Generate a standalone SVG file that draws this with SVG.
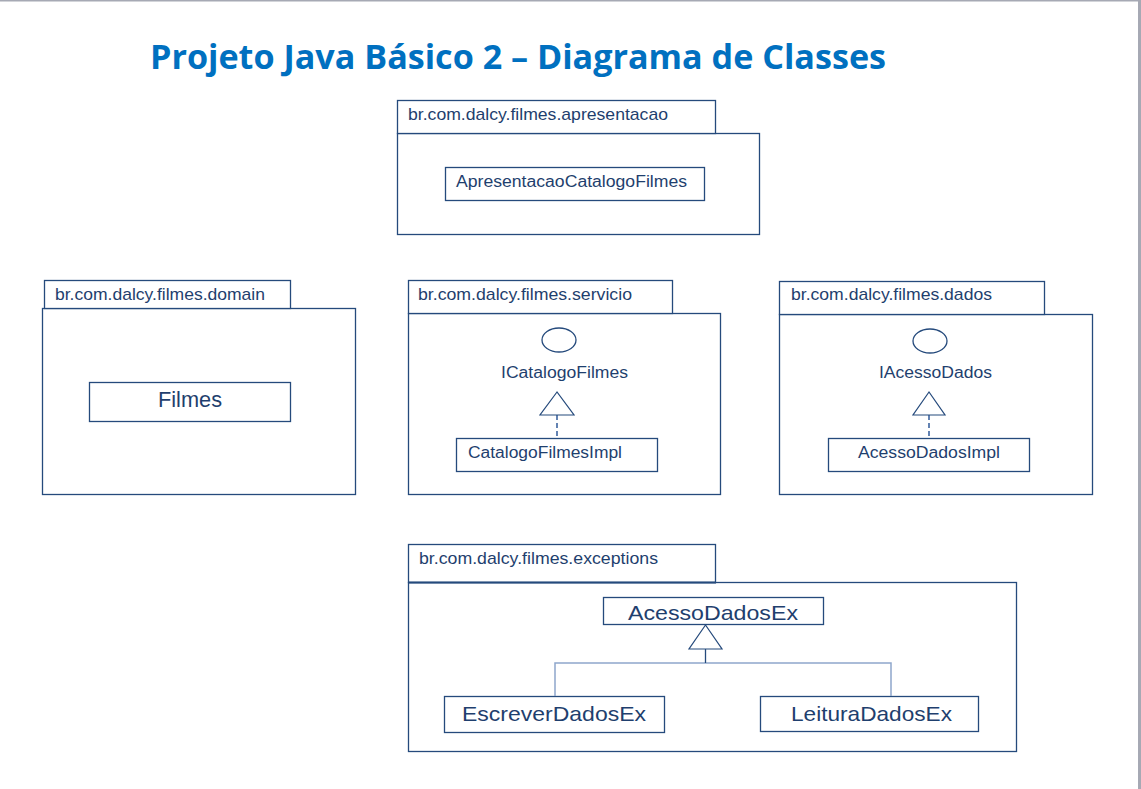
<svg xmlns="http://www.w3.org/2000/svg" width="1141" height="789" viewBox="0 0 1141 789">
<style>
.box{fill:#fff;stroke:#254a7c;stroke-width:1.3}
.t{font-family:"Liberation Sans",Arial,sans-serif;fill:#1f3f6e}
.tab{font-size:17px}
.cls{font-size:16px}
.big{font-size:21px}
.ln{fill:none;stroke:#254a7c;stroke-width:1.3}
.lt{fill:none;stroke:#8ea7cc;stroke-width:1.5}
.dash{fill:none;stroke:#3d64a0;stroke-width:1.6;stroke-dasharray:5,3}
.tri{fill:#fff;stroke:#254a7c;stroke-width:1.2}
</style>
<rect x="0" y="0" width="1141" height="789" fill="#fff"/>
<rect x="0" y="0" width="1141" height="1.5" fill="#a6a9b4"/>
<rect x="1138" y="0" width="3" height="789" fill="#a6a9b4"/>
<text x="150" y="69" textLength="736" lengthAdjust="spacingAndGlyphs" font-family="'Open Sans','Noto Sans',sans-serif" font-weight="bold" font-size="34" fill="#0070c0">Projeto Java Básico 2 – Diagrama de Classes</text>

<g id="pkg-apresentacao">
<rect class="box" x="397.5" y="133.5" width="362" height="101"/>
<rect class="box" x="397.5" y="100.5" width="318" height="33"/>
<text class="t tab" x="408" y="120" textLength="260" lengthAdjust="spacingAndGlyphs">br.com.dalcy.filmes.apresentacao</text>
</g>
<g id="cls-ApresentacaoCatalogoFilmes">
<rect class="box" x="445.5" y="167.5" width="259" height="33"/>
<text class="t cls" x="456" y="187" textLength="231" lengthAdjust="spacingAndGlyphs">ApresentacaoCatalogoFilmes</text>
</g>

<g id="pkg-domain">
<rect class="box" x="42.5" y="308.5" width="313" height="186"/>
<rect class="box" x="44.5" y="280.5" width="246" height="28"/>
<text class="t tab" x="55" y="300" textLength="210" lengthAdjust="spacingAndGlyphs">br.com.dalcy.filmes.domain</text>
</g>
<g id="cls-Filmes">
<rect class="box" x="89.5" y="382.5" width="201" height="39"/>
<text class="t" font-size="22" x="158" y="407" textLength="64" lengthAdjust="spacingAndGlyphs">Filmes</text>
</g>

<g id="pkg-servicio">
<rect class="box" x="408.5" y="313.5" width="312" height="181"/>
<rect class="box" x="408.5" y="280.5" width="264" height="33"/>
<text class="t tab" x="418" y="300" textLength="214" lengthAdjust="spacingAndGlyphs">br.com.dalcy.filmes.servicio</text>
</g>
<g id="if-ICatalogoFilmes">
<ellipse class="ln" cx="559" cy="340" rx="17" ry="12"/>
<text class="t cls" x="501" y="378" textLength="127" lengthAdjust="spacingAndGlyphs">ICatalogoFilmes</text>
</g>
<g id="cls-CatalogoFilmesImpl">
<rect class="box" x="456.5" y="438.5" width="201" height="33"/>
<text class="t cls" x="468" y="458" textLength="154" lengthAdjust="spacingAndGlyphs">CatalogoFilmesImpl</text>
</g>

<g id="pkg-dados">
<rect class="box" x="779.5" y="314.5" width="313" height="180"/>
<rect class="box" x="779.5" y="281.5" width="265" height="33"/>
<text class="t tab" x="791" y="300" textLength="201" lengthAdjust="spacingAndGlyphs">br.com.dalcy.filmes.dados</text>
</g>
<g id="if-IAcessoDados">
<ellipse class="ln" cx="930" cy="341" rx="17" ry="12"/>
<text class="t cls" x="879" y="378" textLength="113" lengthAdjust="spacingAndGlyphs">IAcessoDados</text>
</g>
<g id="cls-AcessoDadosImpl">
<rect class="box" x="828.5" y="438.5" width="201" height="33"/>
<text class="t cls" x="858" y="458" textLength="142" lengthAdjust="spacingAndGlyphs">AcessoDadosImpl</text>
</g>

<g id="pkg-exceptions">
<rect class="box" x="408.5" y="582.5" width="608" height="169"/>
<rect class="box" x="408.5" y="544.5" width="307" height="38"/>
<line x1="408" y1="582.5" x2="716" y2="582.5" stroke="#254a7c" stroke-width="2"/>
<text class="t tab" x="419" y="564" textLength="239" lengthAdjust="spacingAndGlyphs">br.com.dalcy.filmes.exceptions</text>
</g>
<g id="cls-AcessoDadosEx">
<rect class="box" x="603.5" y="597.5" width="220" height="27"/>
<text class="t big" x="628" y="620" textLength="170" lengthAdjust="spacingAndGlyphs">AcessoDadosEx</text>
</g>
<g id="cls-EscreverDadosEx">
<rect class="box" x="444.5" y="696.5" width="220" height="36"/>
<text class="t big" x="462" y="721" textLength="184" lengthAdjust="spacingAndGlyphs">EscreverDadosEx</text>
</g>
<g id="cls-LeituraDadosEx">
<rect class="box" x="760.5" y="696.5" width="218" height="35"/>
<text class="t big" x="791" y="721" textLength="161" lengthAdjust="spacingAndGlyphs">LeituraDadosEx</text>
</g>

<g id="connectors">
<line class="dash" x1="557" y1="415" x2="557" y2="438"/>
<polygon class="tri" points="557,392 540,415 574,415"/>
<line class="dash" x1="929" y1="415" x2="929" y2="438"/>
<polygon class="tri" points="929,392 913,415 945,415"/>
<polyline class="lt" points="555,696 555,663 891,663 891,696"/>
<line class="ln" x1="705.5" y1="649" x2="705.5" y2="663"/>
<polygon class="tri" points="705.5,625 689,649 722,649"/>
</g>
</svg>
